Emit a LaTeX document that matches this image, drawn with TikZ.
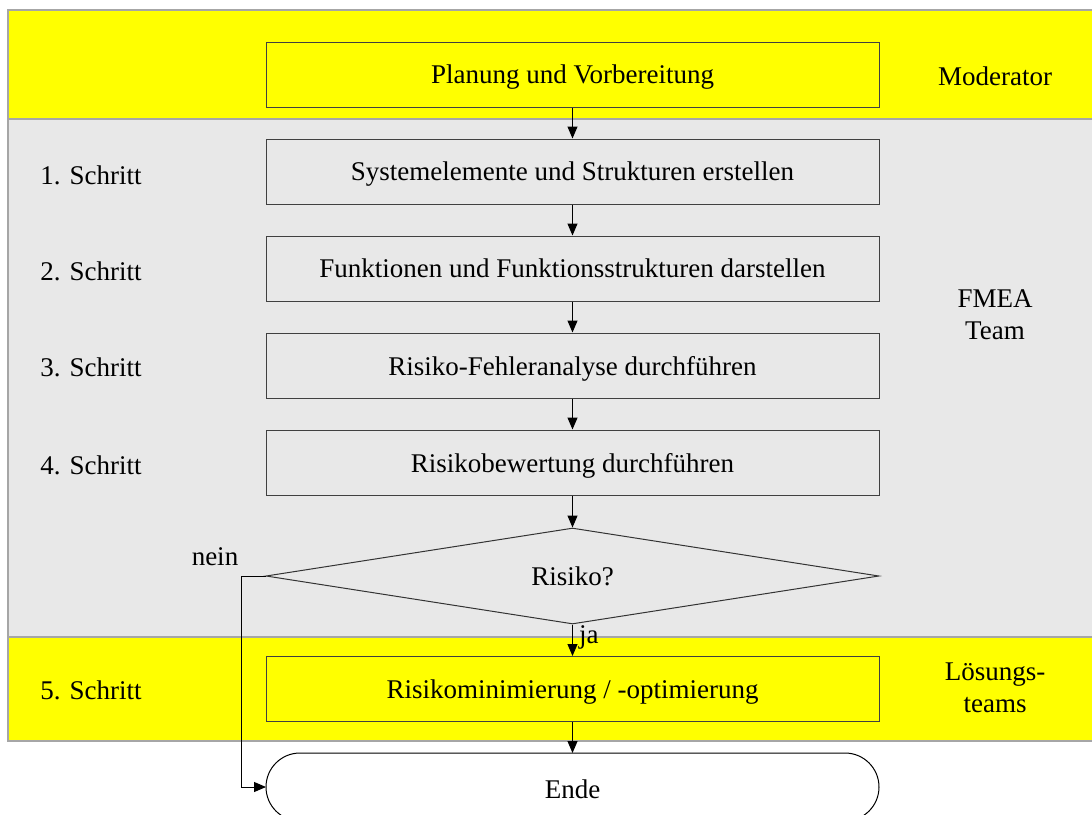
\documentclass[tikz,border=0pt]{standalone}
\usepackage{fontspec}
\setmainfont{Liberation Serif}
\usepackage{tikz}
\usetikzlibrary{arrows.meta, positioning, shapes.geometric, calc}
\definecolor{laneyellow}{RGB}{255,255,0}
\definecolor{lanegray}{RGB}{232,232,232}

\begin{document}
\begin{tikzpicture}[x=0.5pt, y=-0.5pt,
  every node/.style={font=\fontsize{13.5pt}{16pt}\selectfont},
  band/.style={draw=black!35, line width=0.6pt},
  stepbox/.style={draw=black!75, line width=0.5pt, minimum width=306.5pt, minimum height=32.5pt, inner sep=0pt, text depth=0pt},
  decision/.style={diamond, draw=black!80, line width=0.5pt, aspect=6.4, minimum width=306.5pt, minimum height=48pt, inner sep=0pt},
  arrow/.style={-{Triangle[length=6pt, width=5pt]}, line width=0.5pt},
  lane/.style={align=center}]
  \useasboundingbox (0,0) rectangle (1092,814);

  % --- Bands (moderator, team, solution teams) ---
  \fill[laneyellow] (8,10) rectangle (1093,119);
  \fill[lanegray] (8,119) rectangle (1093,637);
  \fill[laneyellow] (8,637) rectangle (1093,741);
  \draw[band] (1093,10) -- (8,10) -- (8,741) -- (1093,741);
  \draw[band] (8,119) -- (1093,119);
  \draw[band] (8,637) -- (1093,637);

  % --- Process steps ---
  \node[stepbox, fill=laneyellow] (plan) at (572.5,74.5) {Planung und Vorbereitung};
  \node[stepbox] (sys) at (572.5,171.5) {Systemelemente und Strukturen erstellen};
  \node[stepbox] (func) at (572.5,268.5) {Funktionen und Funktionsstrukturen darstellen};
  \node[stepbox] (fail) at (572.5,365.5) {Risiko-Fehleranalyse durchführen};
  \node[stepbox] (eval) at (572.5,462.5) {Risikobewertung durchführen};
  \node[decision] (risk) at (572.5,576) {Risiko?};
  \node[stepbox, fill=laneyellow] (opt) at (572.5,689) {Risikominimierung / -optimierung};
  \draw[line width=0.5pt, fill=white, rounded corners=17pt]
    (266,753) rectangle (879,821);
  \node (ende) at (572.5,789) {Ende};
  \coordinate (endeW) at (266,787);

  % --- Step labels (left) ---
  \node (s1) at (91,175) {1. Schritt};
  \node (s2) at (91,271) {2. Schritt};
  \node (s3) at (91,367) {3. Schritt};
  \node (s4) at (91,465) {4. Schritt};
  \node (s5) at (91,690) {5. Schritt};

  % --- Role labels (right) ---
  \node[lane] (mod) at (995,76) {Moderator};
  \node[lane] (team) at (995,315) {FMEA\\Team};
  \node[lane] (sol) at (995,688) {Lösungs-\\teams};

  % --- Connectors ---
  \draw[arrow] (plan) -- (sys);
  \draw[arrow] (sys) -- (func);
  \draw[arrow] (func) -- (fail);
  \draw[arrow] (fail) -- (eval);
  \draw[arrow] (eval) -- (risk);
  \draw[arrow] (risk) -- node[right, pos=0.4, inner sep=3pt] {ja} (opt);
  \draw[arrow] (opt) -- (572.5,753);
  \draw[arrow] (risk.west) -- ++(-24,0) |- (endeW);
  \node (nein) at (215,557) {nein};
\end{tikzpicture}
\end{document}
